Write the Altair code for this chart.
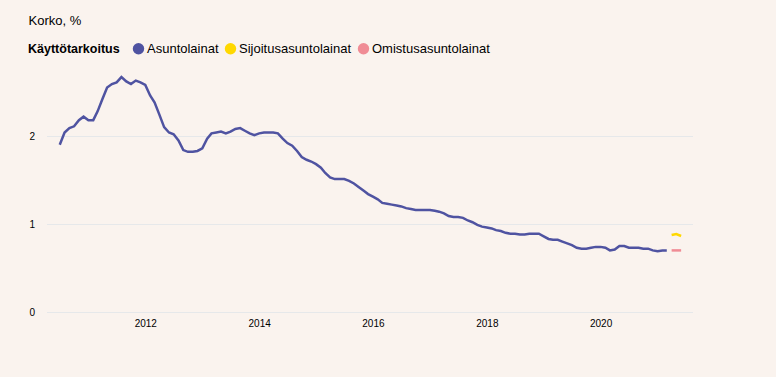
import altair as alt
import pandas as pd

# ---- data ----
series_names = ["Asuntolainat", "Sijoitusasuntolainat", "Omistusasuntolainat"]
series_colors = ["#4f53a1", "#ffd800", "#f08c95"]

asunto_start = "2010-07-01"
asunto_values = [
    1.90, 2.04, 2.09, 2.11, 2.18, 2.22, 2.18, 2.18, 2.28, 2.42,
    2.55, 2.59, 2.61, 2.67, 2.62, 2.59, 2.63, 2.61, 2.58, 2.46,
    2.38, 2.24, 2.10, 2.04, 2.02, 1.95, 1.84, 1.82, 1.82, 1.83,
    1.86, 1.97, 2.03, 2.04, 2.05, 2.03, 2.05, 2.08, 2.09, 2.06,
    2.03, 2.01, 2.03, 2.04, 2.04, 2.04, 2.03, 1.97, 1.92, 1.89,
    1.83, 1.76, 1.73, 1.71, 1.68, 1.64, 1.58, 1.53, 1.51, 1.51,
    1.51, 1.49, 1.46, 1.42, 1.38, 1.34, 1.31, 1.28, 1.24, 1.23,
    1.22, 1.21, 1.20, 1.18, 1.17, 1.16, 1.16, 1.16, 1.16, 1.15,
    1.14, 1.12, 1.09, 1.08, 1.08, 1.07, 1.04, 1.02, 0.99, 0.97,
    0.96, 0.95, 0.93, 0.92, 0.90, 0.89, 0.89, 0.88, 0.88, 0.89,
    0.89, 0.89, 0.86, 0.83, 0.82, 0.82, 0.80, 0.78, 0.76, 0.73,
    0.72, 0.72, 0.73, 0.74, 0.74, 0.73, 0.70, 0.71, 0.75, 0.75,
    0.73, 0.73, 0.73, 0.72, 0.72, 0.70, 0.69, 0.70, 0.70,
]

late_months = ["2021-04-01", "2021-05-01", "2021-06-01"]
sijoitus_values = [0.875, 0.886, 0.864]
omistus_values = [0.70, 0.70, 0.70]

x_tick_years = [2012, 2014, 2016, 2018, 2020]
y_tick_values = [0, 1, 2]

# ---- table ----
asunto_months = pd.date_range(asunto_start, periods=len(asunto_values), freq="MS").strftime("%Y-%m-%d")
frames = [
    pd.DataFrame({"Kuukausi": list(asunto_months), "Korko": asunto_values,
                  "Käyttötarkoitus": series_names[0]}),
    pd.DataFrame({"Kuukausi": late_months, "Korko": sijoitus_values,
                  "Käyttötarkoitus": series_names[1]}),
    pd.DataFrame({"Kuukausi": late_months, "Korko": omistus_values,
                  "Käyttötarkoitus": series_names[2]}),
]
df = pd.concat(frames, ignore_index=True)

FONT = "Liberation Sans"

x_enc = alt.X(
    "Kuukausi:T",
    title=None,
    scale=alt.Scale(
        type="utc",
        domain=[alt.DateTime(year=2010, month=4, date=7, utc=True),
                alt.DateTime(year=2021, month=8, date=13, utc=True)],
    ),
    axis=alt.Axis(
        values=[alt.DateTime(year=y, month=1, date=1, utc=True) for y in x_tick_years],
        format="%Y", grid=False, domain=False, ticks=False, tickSize=0,
        labelFontSize=10, labelColor="#000000", labelPadding=6, labelFont=FONT,
    ),
)
y_enc = alt.Y(
    "Korko:Q",
    title=None,
    scale=alt.Scale(domain=[0, 2.75], nice=False),
    axis=alt.Axis(
        values=y_tick_values, grid=True, gridColor="#e6e8ea", gridWidth=1,
        domain=False, ticks=False, tickSize=0,
        labelFontSize=10, labelColor="#000000", labelPadding=12, labelFont=FONT,
    ),
)
color_scale = alt.Scale(domain=series_names, range=series_colors)

lines = alt.Chart(df).mark_line(strokeWidth=2.5).encode(
    x=x_enc, y=y_enc,
    color=alt.Color("Käyttötarkoitus:N", scale=color_scale, legend=None),
)

legend_pts = alt.Chart(df).mark_point(filled=True, opacity=0).encode(
    x=x_enc, y=y_enc,
    color=alt.Color(
        "Käyttötarkoitus:N", scale=color_scale,
        legend=alt.Legend(
            title="Käyttötarkoitus", orient="none", legendX=-18.5, legendY=-28,
            direction="horizontal", titleOrient="left", titleFontSize=12.5,
            titleFontWeight="bold", titleColor="#000000", titleFont=FONT,
            titlePadding=12, labelFontSize=13, labelColor="#000000", labelFont=FONT,
            labelOffset=2, columnPadding=5, symbolType="circle", symbolSize=130,
            symbolOpacity=1, symbolStrokeWidth=0,
        ),
    ),
)

chart = alt.layer(lines, legend_pts).resolve_legend(color="independent").properties(
    width=646,
    height=242,
    title=alt.TitleParams(
        "Korko, %", anchor="start", frame="group", fontSize=13, fontWeight="normal",
        color="#000000", font=FONT, dx=-18, offset=14,
    ),
    autosize=alt.AutoSizeParams(type="none"),
    padding={"left": 46.5, "top": 70, "right": 83.5, "bottom": 65},
).configure(background="#faf3ee").configure_view(stroke=None)

chart.save("out.html", embed_options={"renderer": "svg", "actions": False})
